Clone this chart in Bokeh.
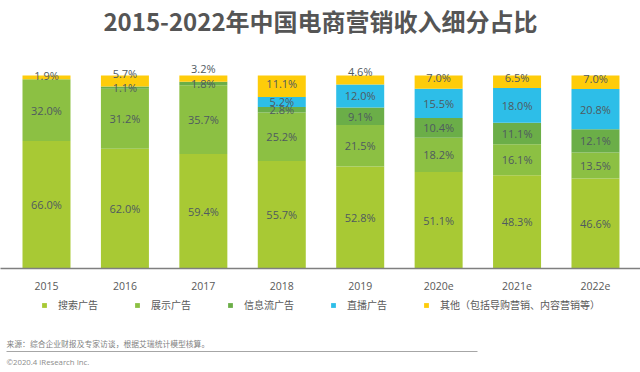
from bokeh.plotting import figure
from bokeh.models import ColumnDataSource, Range1d, Legend, LegendItem, FixedTicker
from bokeh.layouts import column
from bokeh.core.properties import value
from bokeh.embed import file_html
from bokeh.resources import INLINE

# ---------------- data ----------------
years = ["2015", "2016", "2017", "2018", "2019", "2020e", "2021e", "2022e"]
search_ads = [66.0, 62.0, 59.4, 55.7, 52.8, 51.1, 48.3, 46.6]
display_ads = [32.0, 31.2, 35.7, 25.2, 21.5, 18.2, 16.1, 13.5]
feed_ads = [0.0, 1.1, 1.8, 2.8, 9.1, 10.4, 11.1, 12.1]
live_ads = [0.0, 0.0, 0.0, 5.2, 12.0, 15.5, 18.0, 20.8]
other_ads = [1.9, 5.7, 3.2, 11.1, 4.6, 7.0, 6.5, 7.0]
series_names = ["搜索广告", "展示广告", "信息流广告", "直播广告", "其他（包括导购营销、内容营销等）"]

title_text = "2015-2022年中国电商营销收入细分占比"
source_note = "来源：综合企业财报及专家访谈，根据艾瑞统计模型核算。"
copyright_note = "©2020.4 iResearch Inc."

# ---------------- styles ----------------
colors = ["#A8C934", "#8CC043", "#6BAE48", "#2DBEE8", "#FECC0A"]
label_color = "#4F5A60"
text_gray = "#595959"
num_font = "Open Sans"
cjk_font = "Noto Sans CJK SC"
# upward pixel nudges for the top ("other") labels
other_nudge = [2, 8, 10, 3, 8, 5, 4, 4]

series = [search_ads, display_ads, feed_ads, live_ads, other_ads]
keys = ["s0", "s1", "s2", "s3", "s4"]
n = len(years)
xs = list(range(n))
totals = [sum(s[i] for s in series) for i in range(n)]

data = {"x": xs}
for k, s in zip(keys, series):
    data[k] = [s[i] / totals[i] * 100 for i in range(n)]
src = ColumnDataSource(data)

W, H_HEAD, H_MAIN, H_FOOT = 640, 40, 256, 76

# header (title)
h = figure(width=W, height=H_HEAD, output_backend="svg", toolbar_location=None,
           x_range=Range1d(0, W), y_range=Range1d(H_HEAD, 0),
           x_axis_location=None, y_axis_location=None, min_border=0)
h.outline_line_color = None
h.grid.visible = False
h.text(x=[W / 2], y=[20], text=[title_text], text_font=value(cjk_font),
       text_font_size="24px", text_font_style="bold", text_color="#555555",
       text_align="center", text_baseline="middle")

# main chart
p = figure(width=W, height=H_MAIN, output_backend="svg", toolbar_location=None,
           x_range=Range1d(-0.5865, 7.574), y_range=Range1d(0, 114),
           y_axis_location=None, min_border_left=0, min_border_right=0,
           min_border_top=8, min_border_bottom=28)
p.outline_line_color = None
p.grid.visible = False

renderers = p.vbar_stack(keys, x="x", width=0.612, source=src, color=colors,
                         line_color=None)

# labels
lx, ly, lt, loff = [], [], [], []
for si, (k, s) in enumerate(zip(keys, series)):
    for i in range(n):
        if s[i] <= 0:
            continue
        base = sum(data[kk][i] for kk in keys[:si])
        lx.append(i)
        ly.append(base + data[k][i] / 2)
        lt.append(f"{s[i]:.1f}%")
        loff.append(-other_nudge[i] if si == 4 else 0)
lab_src = ColumnDataSource(dict(x=lx, y=ly, text=lt, off=loff))
p.text(x="x", y="y", text="text", y_offset="off", source=lab_src,
       text_align="center", text_baseline="middle", text_font=value(num_font),
       text_font_size="11px", text_color=label_color)

# x axis
ax = p.xaxis[0]
ax.ticker = FixedTicker(ticks=xs)
ax.major_label_overrides = {i: y for i, y in enumerate(years)}
ax.major_tick_line_color = None
ax.minor_tick_line_color = None
ax.major_tick_out = 0
ax.major_tick_in = 0
ax.major_label_standoff = 13
ax.axis_line_color = "#7F7F7F"
ax.axis_line_width = 1.5
ax.major_label_text_font = num_font
ax.major_label_text_font_size = "10.5px"
ax.major_label_text_color = text_gray

# footer (legend + notes)
f = figure(width=W, height=H_FOOT, output_backend="svg", toolbar_location=None,
           x_range=Range1d(0, W), y_range=Range1d(H_FOOT, 0),
           x_axis_location=None, y_axis_location=None, min_border=0)
f.outline_line_color = None
f.grid.visible = False

# legend proxies: one zero-height bar each, placed outside the visible range
proxies = [f.vbar(x=[-1000], top=[0], width=1, color=c, line_color=None) for c in colors]
items = [LegendItem(label=nm, renderers=[r]) for nm, r in zip(series_names, proxies)]
legend = Legend(items=items, orientation="horizontal", location=(41, 60),
                glyph_width=6, glyph_height=6, label_standoff=11, spacing=36,
                label_text_font=cjk_font, label_text_font_size="10px",
                label_text_color=text_gray, padding=0, margin=0,
                border_line_color=None, background_fill_alpha=0,
                label_height=14)
f.add_layout(legend)

f.text(x=[6], y=[47], text=[source_note], text_font=value(cjk_font),
       text_font_size="7.8px", text_baseline="middle", text_color="#7F7F7F")
f.segment(x0=[6], y0=[55], x1=[477], y1=[55], line_color="#A6A6A6", line_width=1)
f.text(x=[6], y=[65], text=[copyright_note], text_font=value(num_font),
       text_font_size="7.8px", text_baseline="middle", text_color="#8C8C8C")

layout = column(h, p, f, spacing=0)
open("out.html", "w").write(file_html(layout, INLINE))
